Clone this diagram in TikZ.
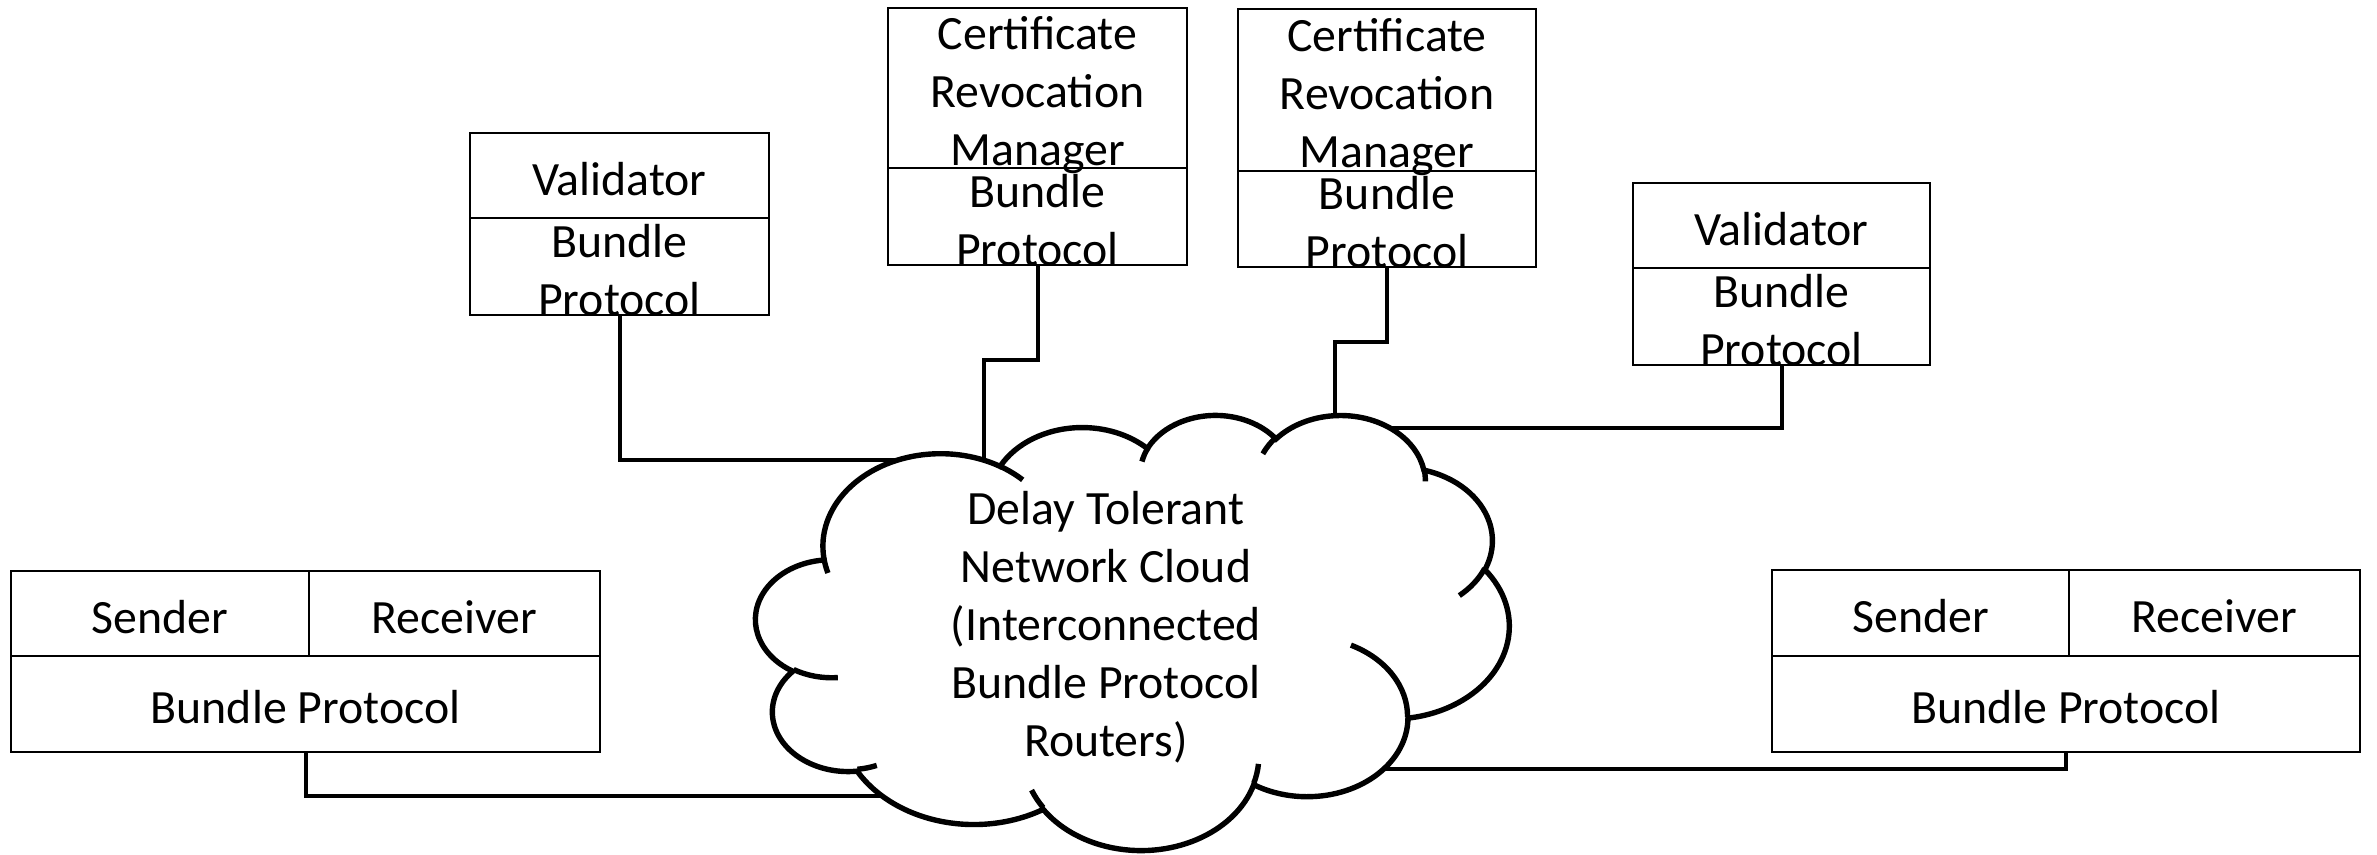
\documentclass[tikz,border=0pt]{standalone}
\usepackage{fontspec}
\setmainfont{Carlito}
\usetikzlibrary{positioning}
\newcommand{\boxfont}{\fontsize{11.95pt}{14.5pt}\selectfont}
\newcommand{\lines}[1]{\begin{tabular}{@{}c@{}}#1\end{tabular}}
% arcTo angles are taken along the ray, tikz wants the ellipse parameter
\pgfmathdeclarefunction{cpar}{3}{%
  \begingroup
  \pgfmathparse{(#3)+mod(atan2((#1)*sin(#3),(#2)*cos(#3))-(#3)+540,360)-180}%
  \pgfmathsmuggle\pgfmathresult
  \endgroup}
\newcommand{\puff}[4]{arc[start angle={cpar(#1,#2,#3)}, end angle={cpar(#1,#2,#3+#4)}, x radius=#1, y radius=#2]}

\begin{document}
\begin{tikzpicture}[x=0.25pt,y=-0.25pt,
  cell/.style={draw,line width=0.65pt,inner sep=0pt,font=\boxfont,text height=10pt,text depth=0pt},
  wh/.style 2 args={minimum width=#1*0.25pt,minimum height=#2*0.25pt},
  link/.style={line width=1pt}]
\useasboundingbox (0,0) rectangle (2377,855);

% validators
\node[cell,wh={299}{85}] (vl) at (619.5,175.5) {\lines{Validator}};
\node[cell,wh={299}{97}] (vlbp) at (619.5,266.5) {\lines{Bundle\\Protocol}};
\node[cell,wh={297}{85}] (vr) at (1781.5,225.5) {\lines{Validator}};
\node[cell,wh={297}{97}] (vrbp) at (1781.5,316.5) {\lines{Bundle\\Protocol}};

% revocation managers
\node[cell,wh={299}{160}] (crm1) at (1037.5,88) {\lines{Certificate\\Revocation\\Manager}};
\node[cell,wh={299}{97}] (crm1bp) at (1037.5,216.5) {\lines{Bundle\\Protocol}};
\node[cell,wh={298}{162}] (crm2) at (1387,90) {\lines{Certificate\\Revocation\\Manager}};
\node[cell,wh={298}{96}] (crm2bp) at (1387,219) {\lines{Bundle\\Protocol}};

% end hosts
\node[cell,wh={298}{85}] (snd1) at (160,613.5) {\lines{Sender}};
\node[cell,wh={291}{85}] (rcv1) at (454.5,613.5) {\lines{Receiver}};
\node[cell,wh={589}{96}] (bp1) at (305.5,704) {\lines{Bundle Protocol}};
\node[cell,wh={297}{86}] (snd2) at (1920.5,613) {\lines{Sender}};
\node[cell,wh={291}{86}] (rcv2) at (2214.5,613) {\lines{Receiver}};
\node[cell,wh={588}{96}] (bp2) at (2066,704) {\lines{Bundle Protocol}};

% attachment points, hidden under the cloud
\coordinate (cl-vl) at (930,460);
\coordinate (cl-crm1) at (984,470);
\coordinate (cl-crm2) at (1335,440);
\coordinate (cl-vr) at (1330,428);
\coordinate (cl-bp1) at (920,796);
\coordinate (cl-bp2) at (1360,769);

\draw[link] (vlbp.south) |- (cl-vl);
\draw[link] (crm1bp.south) -- ++(0,94) -| (cl-crm1);
\draw[link] (crm2bp.south) -- ++(0,74) -| (cl-crm2);
\draw[link] (vrbp.south) |- (cl-vr);
\draw[link] (bp1.south) |- (cl-bp1);
\draw[link] (bp2.south) |- (cl-bp2);

% the cloud
\begin{scope}[shift={(756,414)},x=0.43576pt,y=-0.25174pt,line width=1.35pt]
\filldraw[fill=white] (39.00,143.70)
  \puff{67.53}{91.90}{-190.4875}{123.7805}
  \puff{53.33}{72.67}{-144.1024}{89.9452}
  \puff{43.65}{59.45}{-145.8079}{99.7230}
  \puff{48.57}{65.95}{-130.9861}{117.2417}
  \puff{53.33}{72.73}{-78.7089}{109.0269}
  \puff{67.75}{92.20}{-46.2673}{130.2690}
  \puff{57.85}{78.67}{0.6250}{114.0333}
  \puff{67.52}{92.15}{22.4516}{115.1726}
  \puff{77.20}{105.43}{66.2426}{75.7110}
  \puff{43.60}{59.18}{-274.9421}{146.7356}
  \puff{43.45}{59.45}{-246.8285}{152.5189} -- cycle;
% folds running inside
\draw (46.93,261.77) \puff{43.45}{59.45}{86.7420}{26.4295}
  (69.28,348.99) \puff{43.60}{59.18}{73.6105}{11.4475}
  (164.78,390.90) \puff{67.52}{92.15}{137.6242}{14.0811}
  (288.27,347.51) \puff{67.52}{92.15}{6.4533}{15.9984}
  (341.29,229.54) \puff{57.85}{78.67}{-70.2924}{70.9174}
  (417.98,153.54) \puff{53.33}{72.73}{30.3180}{27.7515}
  (383.24,54.26) \puff{48.57}{65.95}{-13.7443}{14.8519}
  (290.78,39.52) \puff{48.57}{65.95}{-149.1815}{18.1843}
  (221.41,47.20) \puff{43.65}{59.45}{-163.4943}{17.6968}
  (140.00,51.92) \puff{67.53}{91.90}{-66.7070}{12.3194}
  (41.27,157.89) \puff{67.53}{91.90}{157.6544}{11.8539};
\end{scope}

\node[font=\boxfont,inner sep=0pt,text height=10pt,text depth=0pt] (dtn) at (1106,621)
  {\lines{Delay Tolerant\\Network Cloud\\(Interconnected\\Bundle Protocol\\Routers)}};
\end{tikzpicture}
\end{document}
